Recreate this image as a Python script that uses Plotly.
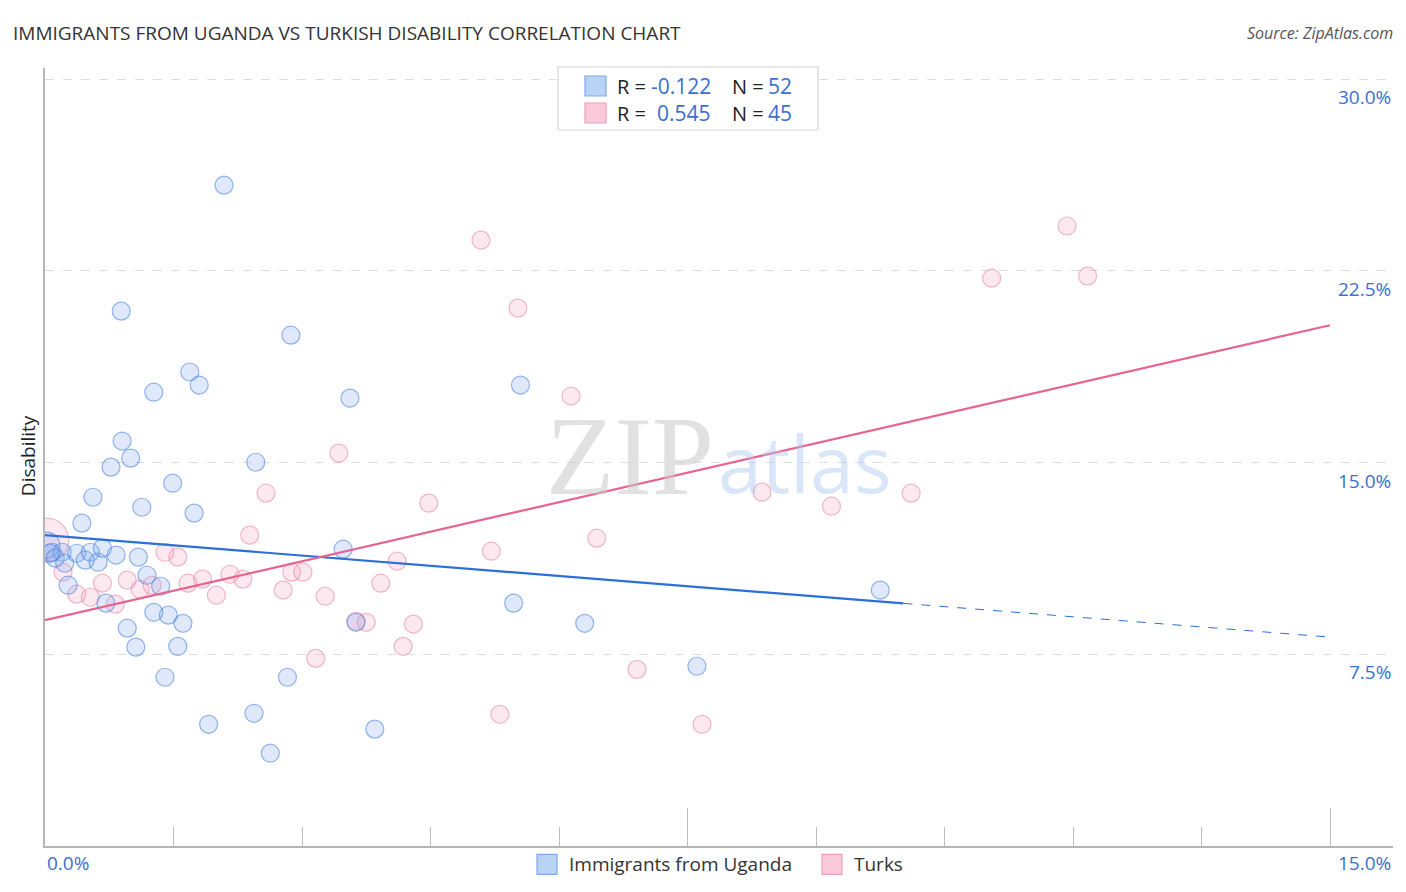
import plotly.graph_objects as go

# ---------------- data (percent) ----------------
uganda_x = [2.09, 0.89, 2.87, 1.69, 1.80, 1.27, 3.56, 5.55, 0.90, 1.00,
            0.77, 2.46, 0.56, 1.49, 1.13, 1.74, 0.43, 0.02, 0.08, 0.12,
            0.20, 0.23, 0.37, 0.47, 0.53, 0.62, 0.67, 0.83, 1.09, 3.48,
            1.19, 1.35, 0.27, 0.71, 1.27, 1.44, 1.61, 0.96, 3.63, 1.06,
            1.55, 5.47, 6.30, 9.75, 7.61, 1.40, 2.83, 1.91, 2.44, 3.85,
            2.63, 0.06]
uganda_y = [25.85, 20.92, 19.98, 18.54, 18.03, 17.75, 17.52, 18.03, 15.84, 15.17,
            14.82, 15.01, 13.64, 14.19, 13.25, 13.02, 12.63, 11.77, 11.49, 11.26,
            11.49, 11.06, 11.45, 11.18, 11.49, 11.10, 11.65, 11.38, 11.30, 11.61,
            10.59, 10.16, 10.20, 9.50, 9.14, 9.03, 8.71, 8.52, 8.75, 7.78,
            7.81, 9.50, 8.71, 10.01, 7.03, 6.60, 6.60, 4.76, 5.19, 4.57,
            3.63, 11.45]

turks_x = [11.93, 11.05, 12.17, 5.09, 5.52, 6.14, 3.43, 2.58, 4.48, 8.37,
           9.18, 10.11, 2.39, 6.44, 5.21, 4.11, 1.40, 1.55, 0.02, 0.21,
           0.67, 0.96, 1.11, 1.25, 1.67, 1.84, 2.16, 2.31, 2.88, 3.01,
           2.78, 2.00, 0.37, 0.53, 0.82, 3.27, 3.92, 3.63, 3.75, 4.30,
           4.18, 3.16, 6.91, 5.31, 7.67]
turks_y = [24.25, 22.21, 22.29, 23.70, 21.04, 17.60, 15.37, 13.80, 13.41, 13.84,
           13.29, 13.80, 12.16, 12.04, 11.53, 11.14, 11.49, 11.30, 11.96, 10.71,
           10.28, 10.40, 10.04, 10.20, 10.28, 10.44, 10.63, 10.44, 10.71, 10.71,
           10.01, 9.81, 9.85, 9.73, 9.46, 9.77, 10.28, 8.79, 8.75, 8.68,
           7.81, 7.34, 6.91, 5.15, 4.76]

# trend lines: (x, y) endpoints
uganda_trend_x = [0.0, 10.02]
uganda_trend_y = [12.16, 9.49]
uganda_dash_x = [10.02, 15.0]
uganda_dash_y = [9.49, 8.17]
turks_trend_x = [0.0, 15.0]
turks_trend_y = [8.83, 20.37]

y_tick_vals = [7.5, 15.0, 22.5, 30.0]
y_tick_text = ["7.5%", "15.0%", "22.5%", "30.0%"]
x_end_labels = ["0.0%", "15.0%"]

series_names = ["Immigrants from Uganda", "Turks"]
r_values = ["-0.122", "0.545"]
n_values = ["52", "45"]

# ---------------- styles ----------------
BLUE_FILL = "rgba(130,172,240,0.36)"
BLUE_EDGE = "rgba(70,130,225,0.85)"
PINK_FILL = "rgba(248,165,195,0.36)"
PINK_EDGE = "rgba(232,135,168,0.85)"
BLUE_LINE = "#2b6fd8"
PINK_LINE = "#e8638f"
LABEL_BLUE = "#3a6fd2"
FONT = "Open Sans"

uganda_sizes = [18] * len(uganda_x)
uganda_sizes[17] = 26
turks_sizes = [18] * len(turks_x)
turks_sizes[18] = 44

OFF = 8  # page body margin
W, H = 1406 - 2 * OFF, 892 - 2 * OFF
L, R, T, B = 45, 1393, 68, 845.7   # plot area in screenshot pixels


def pxx(p):
    return (p - L) / (R - L)


def pxy(p):
    return (B - p) / (B - T)


fig = go.Figure()

fig.add_trace(go.Scatter(
    x=turks_x, y=turks_y, mode="markers",
    marker=dict(size=turks_sizes, color=PINK_FILL, line=dict(color=PINK_EDGE, width=1.2)),
    showlegend=False, hoverinfo="skip"))
fig.add_trace(go.Scatter(
    x=uganda_x, y=uganda_y, mode="markers",
    marker=dict(size=uganda_sizes, color=BLUE_FILL, line=dict(color=BLUE_EDGE, width=1.2)),
    showlegend=False, hoverinfo="skip"))

fig.add_trace(go.Scatter(x=uganda_trend_x, y=uganda_trend_y, mode="lines",
                         line=dict(color=BLUE_LINE, width=2.2), showlegend=False, hoverinfo="skip"))
fig.add_trace(go.Scatter(x=uganda_dash_x, y=uganda_dash_y, mode="lines",
                         line=dict(color=BLUE_LINE, width=1, dash="dash"), showlegend=False, hoverinfo="skip"))
fig.add_trace(go.Scatter(x=turks_trend_x, y=turks_trend_y, mode="lines",
                         line=dict(color=PINK_LINE, width=2.2), showlegend=False, hoverinfo="skip"))

x_max = 15.0 * (R - L) / (1330 - L)
y_max = 30.0 * (B - T) / (B - 79)

fig.update_xaxes(range=[0, x_max], showgrid=False, zeroline=False,
                 showline=True, linecolor="#b5b5b5", linewidth=1.5,
                 ticks="inside", tick0=0, dtick=7.5, ticklen=38, tickcolor="#bdbdbd", tickwidth=1.3,
                 minor=dict(ticks="inside", dtick=1.5, ticklen=19, tickcolor="#bdbdbd", tickwidth=1.3),
                 showticklabels=False)
fig.update_yaxes(range=[0, y_max], showgrid=True, gridcolor="#dedede", griddash="dash", gridwidth=1,
                 tickvals=y_tick_vals, zeroline=False, showline=True, linecolor="#b5b5b5", linewidth=1.5,
                 showticklabels=False)

annotations = []
for v, t in zip(y_tick_vals, y_tick_text):
    annotations.append(dict(x=1, xref="paper", y=v, yref="y", text=t, showarrow=False,
                            xanchor="right", yanchor="middle", yshift=-18,
                            font=dict(family=FONT, size=19, color=LABEL_BLUE)))
annotations.append(dict(x=0, xref="paper", y=pxy(863), yref="paper", text=x_end_labels[0],
                        showarrow=False, xanchor="left", yanchor="middle",
                        font=dict(family=FONT, size=19, color=LABEL_BLUE)))
annotations.append(dict(x=1, xref="paper", y=pxy(863), yref="paper", text=x_end_labels[1],
                        showarrow=False, xanchor="right", yanchor="middle",
                        font=dict(family=FONT, size=19, color=LABEL_BLUE)))

# title & source
annotations.append(dict(x=pxx(11), xref="paper", y=pxy(33), yref="paper",
                        text="IMMIGRANTS FROM UGANDA VS TURKISH DISABILITY CORRELATION CHART",
                        showarrow=False, xanchor="left", yanchor="middle",
                        font=dict(family=FONT, size=19, color="#333333")))
annotations.append(dict(x=pxx(1395), xref="paper", y=pxy(33), yref="paper",
                        text="<i>Source: ZipAtlas.com</i>", showarrow=False, xanchor="right",
                        yanchor="middle", font=dict(family=FONT, size=16, color="#555555")))
# y title
annotations.append(dict(x=pxx(28), xref="paper", y=pxy(456), yref="paper", text="Disability",
                        showarrow=False, textangle=-90, xanchor="center", yanchor="middle",
                        font=dict(family=FONT, size=19, color="#222222")))
# watermark
annotations.append(dict(x=pxx(716), xref="paper", y=pxy(456), yref="paper", text="ZIP",
                        showarrow=False, xanchor="right", yanchor="middle",
                        font=dict(family="Liberation Serif", size=112, color="rgba(200,200,200,0.55)")))
annotations.append(dict(x=pxx(716), xref="paper", y=pxy(462), yref="paper", text="atlas",
                        showarrow=False, xanchor="left", yanchor="middle",
                        font=dict(family=FONT, size=79, color="rgba(170,200,240,0.45)")))

shapes = []
# top legend box
shapes.append(dict(type="rect", xref="paper", yref="paper", x0=pxx(558), x1=pxx(818),
                   y0=pxy(130), y1=pxy(67), line=dict(color="#d5d5d5", width=1.2),
                   fillcolor="white", layer="above"))
rows_y = [86, 113]
fills = ["#b9d3f5", "#fbc9d8"]
edges = ["#7ea9e6", "#eca0b9"]
for i in range(2):
    yc = rows_y[i]
    shapes.append(dict(type="rect", xref="paper", yref="paper", x0=pxx(585), x1=pxx(606),
                       y0=pxy(yc + 10), y1=pxy(yc - 10), line=dict(color=edges[i], width=1.2),
                       fillcolor=fills[i], layer="above"))
    annotations.append(dict(x=pxx(615), xref="paper", y=pxy(yc), yref="paper", text="R = ",
                            showarrow=False, xanchor="left", yanchor="middle",
                            font=dict(family=FONT, size=20, color="#222222")))
    annotations.append(dict(x=pxx(713), xref="paper", y=pxy(yc), yref="paper", text=r_values[i],
                            showarrow=False, xanchor="right", yanchor="middle",
                            font=dict(family=FONT, size=21, color=LABEL_BLUE)))
    annotations.append(dict(x=pxx(730), xref="paper", y=pxy(yc), yref="paper", text="N = ",
                            showarrow=False, xanchor="left", yanchor="middle",
                            font=dict(family=FONT, size=20, color="#222222")))
    annotations.append(dict(x=pxx(766), xref="paper", y=pxy(yc), yref="paper", text=n_values[i],
                            showarrow=False, xanchor="left", yanchor="middle",
                            font=dict(family=FONT, size=21, color=LABEL_BLUE)))

# bottom legend
leg_sq = [537, 822]
for i in range(2):
    shapes.append(dict(type="rect", xref="paper", yref="paper", x0=pxx(leg_sq[i]), x1=pxx(leg_sq[i] + 20),
                       y0=pxy(874), y1=pxy(854), line=dict(color=edges[i], width=1.2),
                       fillcolor=fills[i]))
    annotations.append(dict(x=pxx(leg_sq[i] + 30), xref="paper", y=pxy(864), yref="paper",
                            text=series_names[i], showarrow=False, xanchor="left", yanchor="middle",
                            font=dict(family=FONT, size=19, color="#333333")))

fig.update_layout(width=W, height=H,
                  margin=dict(l=L - OFF, r=1406 - OFF - R, t=T - OFF, b=892 - OFF - B, autoexpand=False),
                  plot_bgcolor="white", paper_bgcolor="white",
                  annotations=annotations, shapes=shapes, showlegend=False)

fig.write_html("out.html")
